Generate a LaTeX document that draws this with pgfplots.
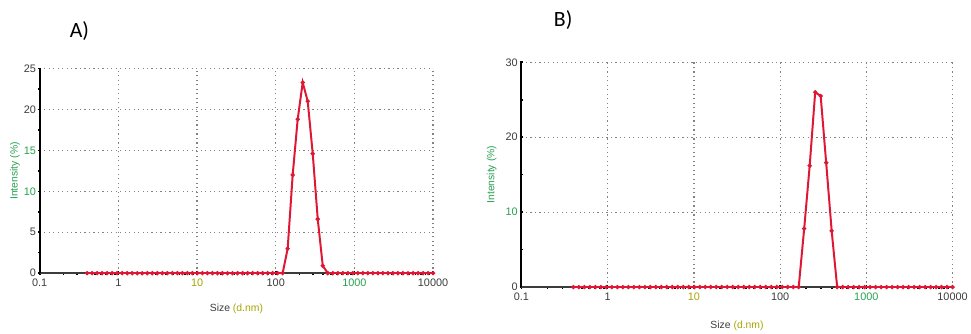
\documentclass[border=0pt]{standalone}
\usepackage{pgfplots}
\pgfplotsset{compat=1.18}
\usepackage{pgfplotstable}
\usepackage{fontspec}
\setmainfont{Liberation Sans}
\newfontfamily\calfont{Carlito}
\definecolor{dlsred}{RGB}{222,24,52}
\definecolor{tickgray}{RGB}{60,60,60}
\definecolor{gridgray}{RGB}{130,130,130}
\definecolor{lblgreen}{RGB}{40,160,80}
\definecolor{olivey}{RGB}{165,165,0}

\pgfplotstableread{
x y
0.4 0
0.4632 0
0.5365 0
0.6213 0
0.7195 0
0.8332 0
0.9649 0
1.117 0
1.294 0
1.499 0
1.736 0
2.010 0
2.328 0
2.696 0
3.122 0
3.615 0
4.187 0
4.849 0
5.615 0
6.503 0
7.531 0
8.721 0
10.10 0
11.70 0
13.54 0
15.69 0
18.17 0
21.04 0
24.36 0
28.21 0
32.67 0
37.84 0
43.82 0
50.75 0
58.77 0
68.06 0
78.82 0
91.28 0
105.7 0
122.4 0
141.8 3.0
164.2 12.0
190.1 18.8
220.2 23.3
255.0 21.0
295.3 14.6
342.0 6.6
396.1 0.9
458.7 0
531.2 0
615.1 0
712.4 0
825.0 0
955.4 0
1106 0
1281 0
1484 0
1718 0
1990 0
2305 0
2669 0
3091 0
3580 0
4145 0
4801 0
5560 0
6439 0
7456 0
8635 0
10000 0
}\dataA

\pgfplotstableread{
x y
0.4 0
0.4632 0
0.5365 0
0.6213 0
0.7195 0
0.8332 0
0.9649 0
1.117 0
1.294 0
1.499 0
1.736 0
2.010 0
2.328 0
2.696 0
3.122 0
3.615 0
4.187 0
4.849 0
5.615 0
6.503 0
7.531 0
8.721 0
10.10 0
11.70 0
13.54 0
15.69 0
18.17 0
21.04 0
24.36 0
28.21 0
32.67 0
37.84 0
43.82 0
50.75 0
58.77 0
68.06 0
78.82 0
91.28 0
105.7 0
122.4 0
141.8 0
164.2 0
190.1 7.8
220.2 16.2
255.0 26.0
295.3 25.5
342.0 16.6
396.1 7.5
458.7 0
531.2 0
615.1 0
712.4 0
825.0 0
955.4 0
1106 0
1281 0
1484 0
1718 0
1990 0
2305 0
2669 0
3091 0
3580 0
4145 0
4801 0
5560 0
6439 0
7456 0
8635 0
10000 0
}\dataB

\begin{document}
\begin{tikzpicture}
\path (0,0) rectangle (971bp,335bp);
\node[font=\calfont\fontsize{22}{24}\selectfont] at (80bp,304bp) {A)};
\node[font=\calfont\fontsize{22}{24}\selectfont] at (567bp,315bp) {B)};

\begin{axis}[set layers,
  xmode=log, xmin=0.1, xmax=10000, ymin=0, ymax=25,
  scale only axis, at={(40bp,60bp)}, anchor=south west,
  width=396bp, height=206bp,
  axis lines*=left,
  y axis line style={black, line width=2bp},
  x axis line style={tickgray, line width=1.4bp},
  xtick={0.1,1,10,100,1000,10000},
  xticklabels={0.1,1,\textcolor{olivey}{10},100,\textcolor{lblgreen}{1000},10000},
  ytick={0,5,10,15,20,25}, minor y tick num=1,
  yticklabels={0,5,\textcolor{lblgreen}{10},\textcolor{lblgreen}{15},20,25},
  grid=major,
  major grid style={gridgray, line width=1.2bp, dash pattern=on 1.2bp off 3.3bp},
  tick align=center,
  major tick length=3.5bp, minor tick length=3bp,
  every tick/.style={black, line width=1.6bp},
  tick label style={font=\fontsize{11}{12}\selectfont, text=tickgray},
  xticklabel style={yshift=-1bp},
  yticklabel style={xshift=1.5bp},
  label style={font=\fontsize{10.5}{11}\selectfont},
  ylabel={\textcolor{lblgreen}{Intensity (\%)}},
  xlabel={\textcolor{tickgray}{Size} \textcolor{olivey}{(d.nm)}},
  ylabel style={at={(axis description cs:-0.063,0.5)}, anchor=center},
  xlabel style={at={(axis description cs:0.5,-0.175)}, anchor=center},
]
\addplot[dlsred, line width=2bp, mark=*, mark size=1bp] table[x=x,y=y] {\dataA};
\end{axis}

\begin{axis}[set layers,
  xmode=log, xmin=0.1, xmax=10000, ymin=0, ymax=30,
  scale only axis, at={(525bp,46bp)}, anchor=south west,
  width=434bp, height=226.3bp,
  axis lines*=left,
  y axis line style={black, line width=2bp},
  x axis line style={tickgray, line width=1.4bp},
  xtick={0.1,1,10,100,1000,10000},
  xticklabels={0.1,1,\textcolor{olivey}{10},100,\textcolor{lblgreen}{1000},10000},
  ytick={0,10,20,30}, minor y tick num=1,
  yticklabels={0,\textcolor{lblgreen}{10},20,30},
  grid=major,
  major grid style={gridgray, line width=1.2bp, dash pattern=on 1.2bp off 3.3bp},
  tick align=center,
  major tick length=3.5bp, minor tick length=3bp,
  every tick/.style={black, line width=1.6bp},
  tick label style={font=\fontsize{11}{12}\selectfont, text=tickgray},
  xticklabel style={yshift=-1bp},
  yticklabel style={xshift=1.5bp},
  label style={font=\fontsize{10.5}{11}\selectfont},
  ylabel={\textcolor{lblgreen}{Intensity (\%)}},
  xlabel={\textcolor{tickgray}{Size} \textcolor{olivey}{(d.nm)}},
  ylabel style={at={(axis description cs:-0.069,0.5)}, anchor=center},
  xlabel style={at={(axis description cs:0.5,-0.172)}, anchor=center},
]
\addplot[dlsred, line width=2bp, mark=*, mark size=1bp] table[x=x,y=y] {\dataB};
\end{axis}
\end{tikzpicture}
\end{document}
